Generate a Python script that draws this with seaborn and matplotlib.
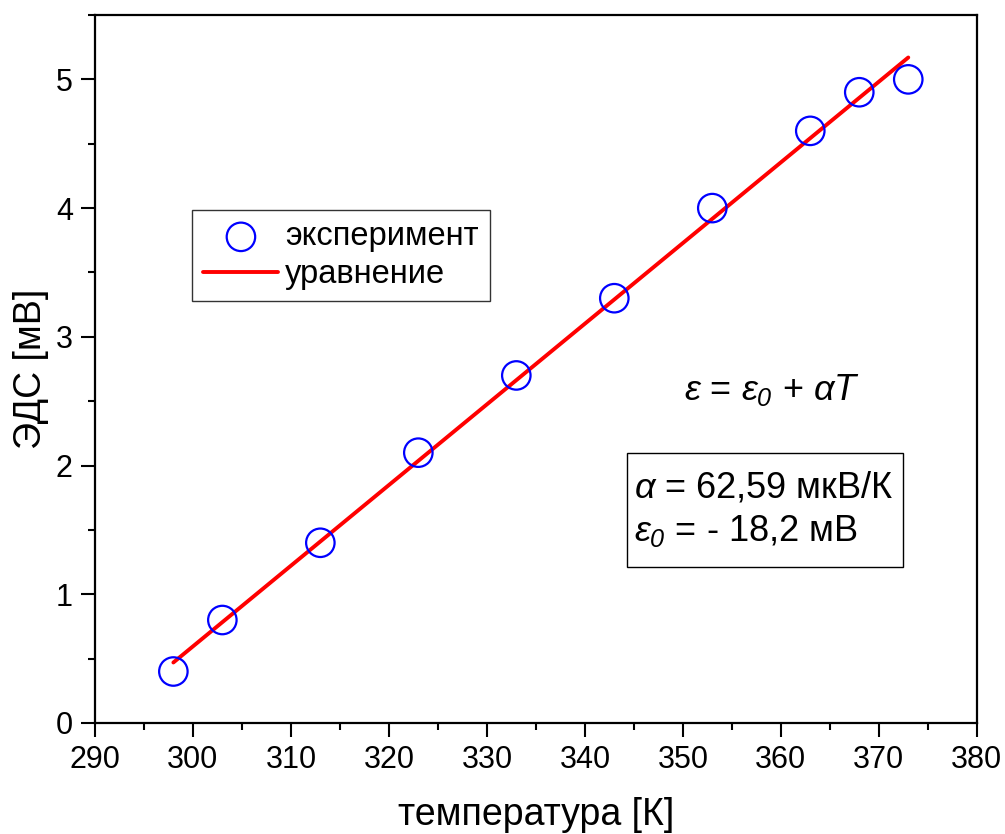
import numpy as np
import pandas as pd
import matplotlib
matplotlib.use('Agg')
import matplotlib.pyplot as plt
import seaborn as sns
from matplotlib.ticker import MultipleLocator
from matplotlib.patches import Rectangle

# measured points
temp_K = [298, 303, 313, 323, 333, 343, 353, 363, 368, 373]
emf_mV = [0.4, 0.8, 1.4, 2.1, 2.7, 3.3, 4.0, 4.6, 4.9, 5.0]
# fitted line end points
fit_T = [298, 373]
fit_E = [0.47, 5.17]

sns.set_style('white')
plt.rcParams['font.family'] = ['Liberation Sans', 'DejaVu Sans']
plt.rcParams['mathtext.fontset'] = 'custom'
plt.rcParams['mathtext.rm'] = 'Liberation Sans'
plt.rcParams['mathtext.it'] = 'Liberation Sans:italic'
plt.rcParams['mathtext.sf'] = 'Liberation Sans:italic'  # italic digits for subscripts
for k in ['text.color', 'axes.labelcolor', 'xtick.color', 'ytick.color']:
    plt.rcParams[k] = 'black'

df = pd.DataFrame({'T': temp_K, 'E': emf_mV})
df_fit = pd.DataFrame({'T': fit_T, 'E': fit_E})

fig = plt.figure(figsize=(10.05, 8.34), dpi=100)
ax = fig.add_axes([0.0945, 0.1331, 0.8775, 0.8489])

sns.lineplot(data=df_fit, x='T', y='E', ax=ax, color='#ff0000', lw=2.8,
             label='уравнение', zorder=2)
sns.scatterplot(data=df, x='T', y='E', ax=ax, marker='o', s=420,
                facecolor='none', edgecolor='#0000ff', linewidth=1.6,
                label='эксперимент', zorder=3)

ax.set_xlim(290, 380)
ax.set_ylim(0, 5.5)
ax.xaxis.set_major_locator(MultipleLocator(10))
ax.xaxis.set_minor_locator(MultipleLocator(5))
ax.yaxis.set_major_locator(MultipleLocator(1))
ax.yaxis.set_minor_locator(MultipleLocator(0.5))
ax.tick_params(which='major', direction='out', length=10, width=1.5,
               labelsize=22, bottom=True, left=True, pad=6)
ax.tick_params(which='minor', direction='out', length=5, width=1.5,
               bottom=True, left=True)
for sp in ax.spines.values():
    sp.set_linewidth(1.6)
    sp.set_color('black')

ax.set_xlabel('температура [К]', fontsize=27, labelpad=16)
ax.set_ylabel('ЭДС [мВ]', fontsize=27, labelpad=5)

handles, labels = ax.get_legend_handles_labels()
order = [labels.index('эксперимент'), labels.index('уравнение')]
leg = ax.legend([handles[i] for i in order], [labels[i] for i in order],
                loc='upper left', bbox_to_anchor=(0.11, 0.7246),
                borderaxespad=0, fontsize=23.5, frameon=True, fancybox=False,
                handlelength=2.3, handletextpad=0.2, borderpad=0.35,
                labelspacing=0.2, markerscale=1.0)
leg.get_frame().set_edgecolor('black')
leg.get_frame().set_linewidth(1.0)

ax.text(0.768, 0.47, r'$\varepsilon$ = $\varepsilon_{\mathsf{0}}$ + $\alpha T$',
        transform=ax.transAxes, ha='center', va='center', fontsize=26)

ax.add_patch(Rectangle((0.603, 0.2203), 0.313, 0.1611, transform=ax.transAxes,
                       facecolor='white', edgecolor='black', lw=1.0, zorder=4))
ax.text(0.611, 0.301,
        '$\\alpha$ = 62,59 мкВ/К\n$\\varepsilon_{\\mathsf{0}}$ = - 18,2 мВ',
        transform=ax.transAxes, ha='left', va='center', fontsize=26,
        linespacing=1.25, zorder=5)

fig.savefig('out.png', dpi=100)
